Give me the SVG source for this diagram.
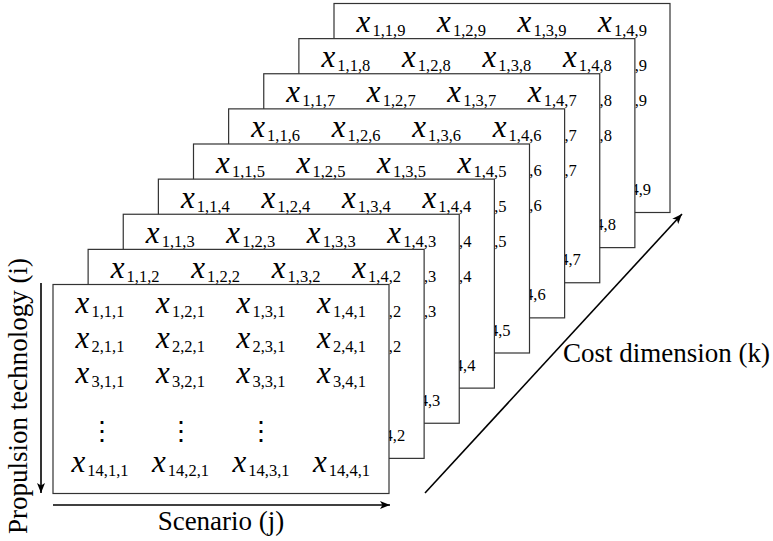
<svg xmlns="http://www.w3.org/2000/svg" width="773" height="541" viewBox="0 0 773 541">
<style>
.pg{fill:#fff;stroke:#333;stroke-width:1.2}
.m{font-family:"Liberation Serif",serif;text-anchor:middle;fill:#000}
.f{font-family:"Liberation Serif",serif;text-anchor:end;fill:#000;font-size:16.5px}
.v{font-style:italic;font-size:31px}
.s{font-size:16.5px}
.vd{font-family:"DejaVu Serif",serif;font-size:26px;text-anchor:middle;fill:#000}
.lbl{font-family:"Liberation Serif",serif;font-size:27px;fill:#000}
.ax{stroke:#000;stroke-width:1.6;fill:none;marker-end:url(#ah)}
</style>
<defs>
<marker id="ah" markerUnits="userSpaceOnUse" markerWidth="11" markerHeight="9" refX="10" refY="4.5" orient="auto">
<path d="M0,0.5 L10,4.5 L0,8.5 L2.5,4.5 z" fill="#000"/>
</marker>
</defs>

<g id="sheet-k9" transform="translate(334,3.5)">
<rect class="pg" width="336" height="209"/>
<text class="m" x="47" y="28.5"><tspan class="v">x</tspan><tspan class="s" dx="2" dy="4">1,1,9</tspan></text>
<text class="m" x="127.5" y="28.5"><tspan class="v">x</tspan><tspan class="s" dx="2" dy="4">1,2,9</tspan></text>
<text class="m" x="208" y="28.5"><tspan class="v">x</tspan><tspan class="s" dx="2" dy="4">1,3,9</tspan></text>
<text class="m" x="288.5" y="28.5"><tspan class="v">x</tspan><tspan class="s" dx="2" dy="4">1,4,9</tspan></text>
<text class="f" x="313" y="67.5">,9</text>
<text class="f" x="313" y="102.5">,9</text>
<text class="f" x="317" y="191.5">4,9</text>
</g>

<g id="sheet-k8" transform="translate(298.875,38.625)">
<rect class="pg" width="336" height="209"/>
<text class="m" x="47" y="28.5"><tspan class="v">x</tspan><tspan class="s" dx="2" dy="4">1,1,8</tspan></text>
<text class="m" x="127.5" y="28.5"><tspan class="v">x</tspan><tspan class="s" dx="2" dy="4">1,2,8</tspan></text>
<text class="m" x="208" y="28.5"><tspan class="v">x</tspan><tspan class="s" dx="2" dy="4">1,3,8</tspan></text>
<text class="m" x="288.5" y="28.5"><tspan class="v">x</tspan><tspan class="s" dx="2" dy="4">1,4,8</tspan></text>
<text class="f" x="313" y="67.5">,8</text>
<text class="f" x="313" y="102.5">,8</text>
<text class="f" x="317" y="191.5">4,8</text>
</g>

<g id="sheet-k7" transform="translate(263.75,73.75)">
<rect class="pg" width="336" height="209"/>
<text class="m" x="47" y="28.5"><tspan class="v">x</tspan><tspan class="s" dx="2" dy="4">1,1,7</tspan></text>
<text class="m" x="127.5" y="28.5"><tspan class="v">x</tspan><tspan class="s" dx="2" dy="4">1,2,7</tspan></text>
<text class="m" x="208" y="28.5"><tspan class="v">x</tspan><tspan class="s" dx="2" dy="4">1,3,7</tspan></text>
<text class="m" x="288.5" y="28.5"><tspan class="v">x</tspan><tspan class="s" dx="2" dy="4">1,4,7</tspan></text>
<text class="f" x="313" y="67.5">,7</text>
<text class="f" x="313" y="102.5">,7</text>
<text class="f" x="317" y="191.5">4,7</text>
</g>

<g id="sheet-k6" transform="translate(228.625,108.875)">
<rect class="pg" width="336" height="209"/>
<text class="m" x="47" y="28.5"><tspan class="v">x</tspan><tspan class="s" dx="2" dy="4">1,1,6</tspan></text>
<text class="m" x="127.5" y="28.5"><tspan class="v">x</tspan><tspan class="s" dx="2" dy="4">1,2,6</tspan></text>
<text class="m" x="208" y="28.5"><tspan class="v">x</tspan><tspan class="s" dx="2" dy="4">1,3,6</tspan></text>
<text class="m" x="288.5" y="28.5"><tspan class="v">x</tspan><tspan class="s" dx="2" dy="4">1,4,6</tspan></text>
<text class="f" x="313" y="67.5">,6</text>
<text class="f" x="313" y="102.5">,6</text>
<text class="f" x="317" y="191.5">4,6</text>
</g>

<g id="sheet-k5" transform="translate(193.5,144)">
<rect class="pg" width="336" height="209"/>
<text class="m" x="47" y="28.5"><tspan class="v">x</tspan><tspan class="s" dx="2" dy="4">1,1,5</tspan></text>
<text class="m" x="127.5" y="28.5"><tspan class="v">x</tspan><tspan class="s" dx="2" dy="4">1,2,5</tspan></text>
<text class="m" x="208" y="28.5"><tspan class="v">x</tspan><tspan class="s" dx="2" dy="4">1,3,5</tspan></text>
<text class="m" x="288.5" y="28.5"><tspan class="v">x</tspan><tspan class="s" dx="2" dy="4">1,4,5</tspan></text>
<text class="f" x="313" y="67.5">,5</text>
<text class="f" x="313" y="102.5">,5</text>
<text class="f" x="317" y="191.5">4,5</text>
</g>

<g id="sheet-k4" transform="translate(158.375,179.125)">
<rect class="pg" width="336" height="209"/>
<text class="m" x="47" y="28.5"><tspan class="v">x</tspan><tspan class="s" dx="2" dy="4">1,1,4</tspan></text>
<text class="m" x="127.5" y="28.5"><tspan class="v">x</tspan><tspan class="s" dx="2" dy="4">1,2,4</tspan></text>
<text class="m" x="208" y="28.5"><tspan class="v">x</tspan><tspan class="s" dx="2" dy="4">1,3,4</tspan></text>
<text class="m" x="288.5" y="28.5"><tspan class="v">x</tspan><tspan class="s" dx="2" dy="4">1,4,4</tspan></text>
<text class="f" x="313" y="67.5">,4</text>
<text class="f" x="313" y="102.5">,4</text>
<text class="f" x="317" y="191.5">4,4</text>
</g>

<g id="sheet-k3" transform="translate(123.25,214.25)">
<rect class="pg" width="336" height="209"/>
<text class="m" x="47" y="28.5"><tspan class="v">x</tspan><tspan class="s" dx="2" dy="4">1,1,3</tspan></text>
<text class="m" x="127.5" y="28.5"><tspan class="v">x</tspan><tspan class="s" dx="2" dy="4">1,2,3</tspan></text>
<text class="m" x="208" y="28.5"><tspan class="v">x</tspan><tspan class="s" dx="2" dy="4">1,3,3</tspan></text>
<text class="m" x="288.5" y="28.5"><tspan class="v">x</tspan><tspan class="s" dx="2" dy="4">1,4,3</tspan></text>
<text class="f" x="313" y="67.5">,3</text>
<text class="f" x="313" y="102.5">,3</text>
<text class="f" x="317" y="191.5">4,3</text>
</g>

<g id="sheet-k2" transform="translate(88.125,249.375)">
<rect class="pg" width="336" height="209"/>
<text class="m" x="47" y="28.5"><tspan class="v">x</tspan><tspan class="s" dx="2" dy="4">1,1,2</tspan></text>
<text class="m" x="127.5" y="28.5"><tspan class="v">x</tspan><tspan class="s" dx="2" dy="4">1,2,2</tspan></text>
<text class="m" x="208" y="28.5"><tspan class="v">x</tspan><tspan class="s" dx="2" dy="4">1,3,2</tspan></text>
<text class="m" x="288.5" y="28.5"><tspan class="v">x</tspan><tspan class="s" dx="2" dy="4">1,4,2</tspan></text>
<text class="f" x="313" y="67.5">,2</text>
<text class="f" x="313" y="102.5">,2</text>
<text class="f" x="317" y="191.5">4,2</text>
</g>

<g id="sheet-k1" transform="translate(53,284.5)">
<rect class="pg" width="336" height="209"/>
<text class="m" x="47" y="28.5"><tspan class="v">x</tspan><tspan class="s" dx="2" dy="4">1,1,1</tspan></text>
<text class="m" x="127.5" y="28.5"><tspan class="v">x</tspan><tspan class="s" dx="2" dy="4">1,2,1</tspan></text>
<text class="m" x="208" y="28.5"><tspan class="v">x</tspan><tspan class="s" dx="2" dy="4">1,3,1</tspan></text>
<text class="m" x="288.5" y="28.5"><tspan class="v">x</tspan><tspan class="s" dx="2" dy="4">1,4,1</tspan></text>
<text class="m" x="47" y="63.5"><tspan class="v">x</tspan><tspan class="s" dx="2" dy="4">2,1,1</tspan></text>
<text class="m" x="127.5" y="63.5"><tspan class="v">x</tspan><tspan class="s" dx="2" dy="4">2,2,1</tspan></text>
<text class="m" x="208" y="63.5"><tspan class="v">x</tspan><tspan class="s" dx="2" dy="4">2,3,1</tspan></text>
<text class="m" x="288.5" y="63.5"><tspan class="v">x</tspan><tspan class="s" dx="2" dy="4">2,4,1</tspan></text>
<text class="m" x="47" y="98.5"><tspan class="v">x</tspan><tspan class="s" dx="2" dy="4">3,1,1</tspan></text>
<text class="m" x="127.5" y="98.5"><tspan class="v">x</tspan><tspan class="s" dx="2" dy="4">3,2,1</tspan></text>
<text class="m" x="208" y="98.5"><tspan class="v">x</tspan><tspan class="s" dx="2" dy="4">3,3,1</tspan></text>
<text class="m" x="288.5" y="98.5"><tspan class="v">x</tspan><tspan class="s" dx="2" dy="4">3,4,1</tspan></text>
<text class="vd" x="48.7" y="155">⋮</text>
<text class="vd" x="127.7" y="155">⋮</text>
<text class="vd" x="207.7" y="155">⋮</text>
<text class="m" x="47" y="187.5"><tspan class="v">x</tspan><tspan class="s" dx="2" dy="4">14,1,1</tspan></text>
<text class="m" x="127.5" y="187.5"><tspan class="v">x</tspan><tspan class="s" dx="2" dy="4">14,2,1</tspan></text>
<text class="m" x="208" y="187.5"><tspan class="v">x</tspan><tspan class="s" dx="2" dy="4">14,3,1</tspan></text>
<text class="m" x="288.5" y="187.5"><tspan class="v">x</tspan><tspan class="s" dx="2" dy="4">14,4,1</tspan></text>
</g>

<g id="axes">
<line class="ax" x1="41" y1="283" x2="41" y2="493"/>
<line class="ax" x1="53" y1="505" x2="390" y2="505"/>
<line class="ax" x1="425" y1="493" x2="682" y2="214"/>
</g>

<g id="axis-labels">
<text class="lbl" x="221" y="530" text-anchor="middle">Scenario (j)</text>
<text class="lbl" transform="translate(27,396) rotate(-90)" text-anchor="middle">Propulsion technology (i)</text>
<text class="lbl" x="563" y="362">Cost dimension (k)</text>
</g>
</svg>
